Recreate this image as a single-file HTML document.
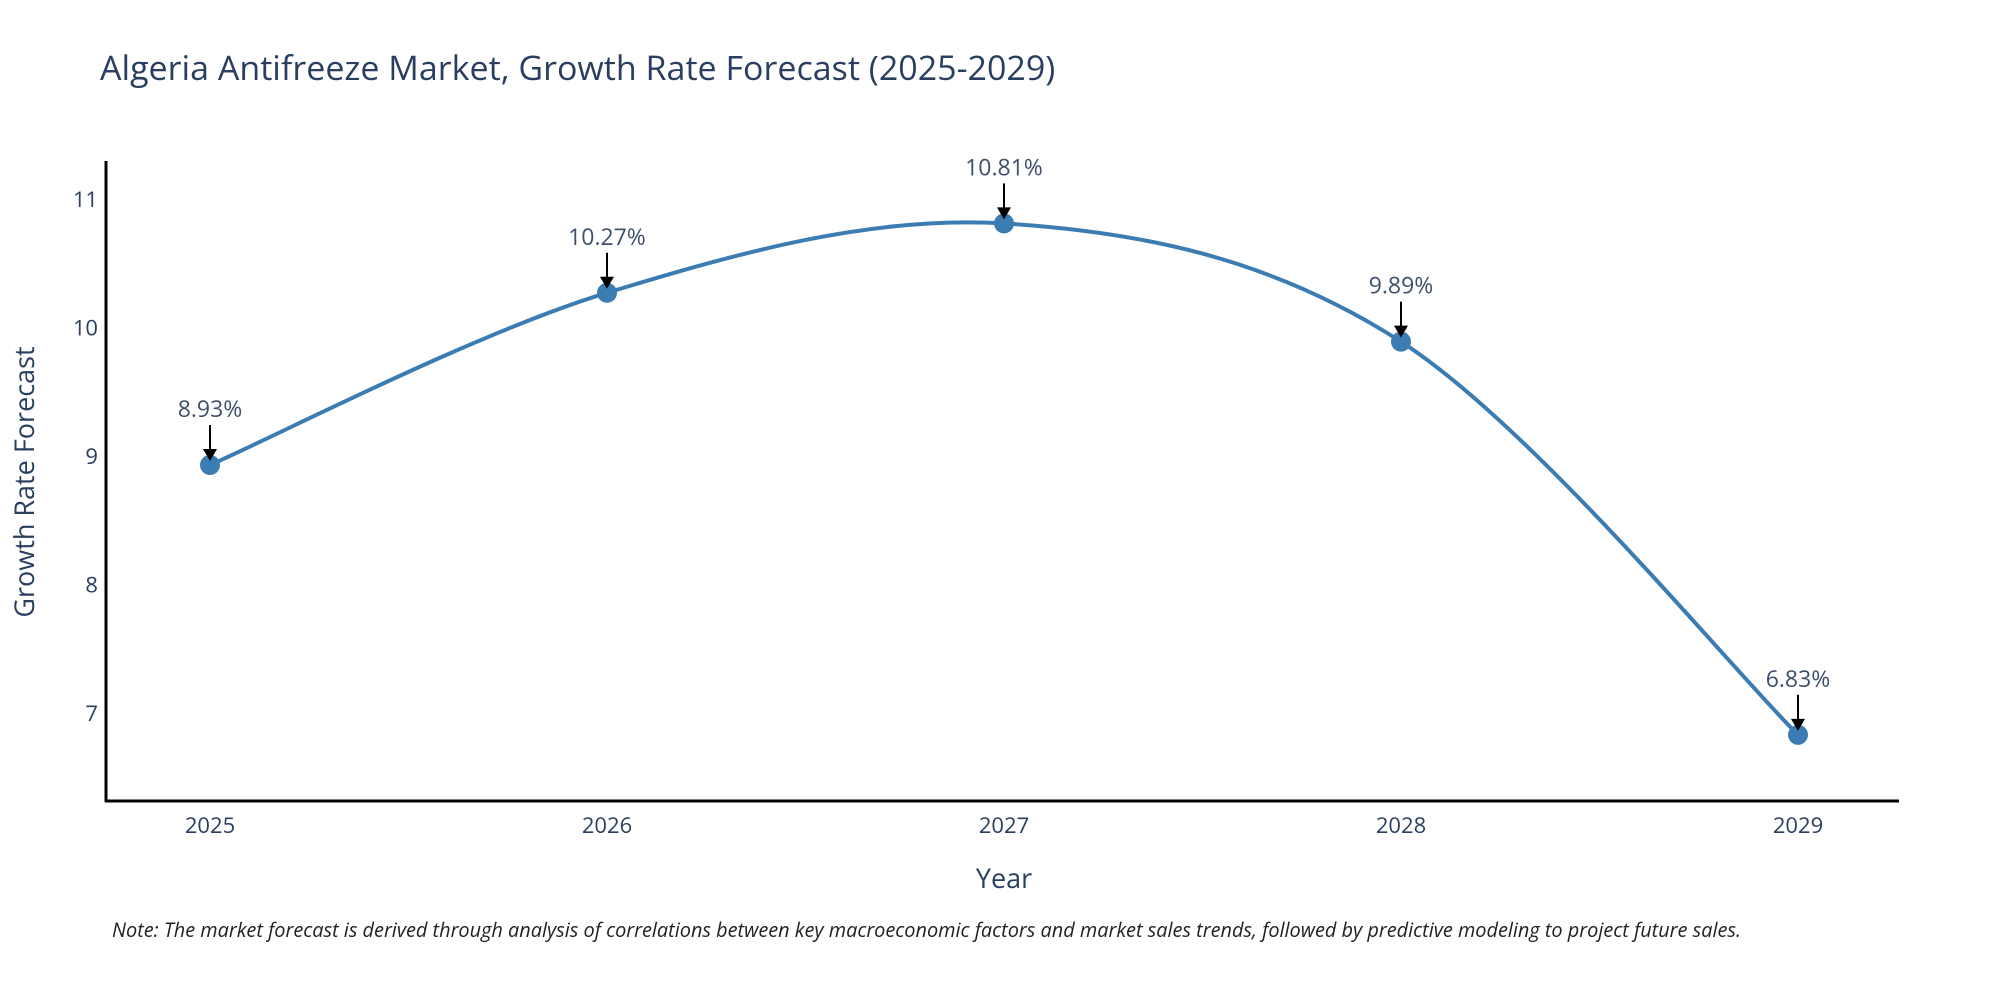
<!DOCTYPE html>
<html><head><meta charset="utf-8"><style>
body{margin:0;background:#fff;}
svg{display:block;font-family:"Open Sans","Liberation Sans",sans-serif;}
</style></head><body>
<svg id="chart" width="2000" height="1000">
<text x="100" y="80" font-size="34" fill="#2a3f5f">Algeria Antifreeze Market, Growth Rate Forecast (2025-2029)</text>
<g id="yticks"></g>
<g id="xticks"></g>
<path id="line" fill="none" stroke="#3b7db3" stroke-width="4"></path>
<g id="marks"></g>
<line x1="106" y1="161" x2="106" y2="802" stroke="#000" stroke-width="3"/>
<line x1="105" y1="801" x2="1899" y2="801" stroke="#000" stroke-width="3"/>
<text x="1004" y="888" font-size="27" fill="#2a3f5f" text-anchor="middle">Year</text>
<text transform="translate(34,482) rotate(-90)" font-size="27" fill="#2a3f5f" text-anchor="middle">Growth Rate Forecast</text>
<text x="112" y="937" font-size="19.9" font-style="italic" fill="#222">Note: The market forecast is derived through analysis of correlations between key macroeconomic factors and market sales trends, followed by predictive modeling to project future sales.</text>
</svg>
<script>
const years=["2025","2026","2027","2028","2029"];
const values=[8.93,10.27,10.81,9.89,6.83];
const labels=["8.93%","10.27%","10.81%","9.89%","6.83%"];
const yTicks=[7,8,9,10,11];
const NS="http://www.w3.org/2000/svg";
const xs=i=>210+i*(1798-210)/(years.length-1);
const ys=v=>713-(v-7)*128.5;
function mk(t,a,p){const e=document.createElementNS(NS,t);for(const k in a)e.setAttribute(k,a[k]);p.appendChild(e);return e;}
const yt=document.getElementById('yticks');
yTicks.forEach(v=>{const t=mk('text',{x:98,y:ys(v)+8,'font-size':22,fill:'#2a3f5f','text-anchor':'end'},yt);


t.textContent=v;});
const xt=document.getElementById('xticks');
years.forEach((y,i)=>{const t=mk('text',{x:xs(i),y:833,'font-size':22,fill:'#2a3f5f','text-anchor':'middle'},xt);


t.textContent=y;});
const pts=values.map((v,i)=>[xs(i),ys(v)]);
let d=`M${pts[0][0]},${pts[0][1]}`;
for(let i=0;i<pts.length-1;i++){const p0=pts[Math.max(0,i-1)],p1=pts[i],p2=pts[i+1],p3=pts[Math.min(pts.length-1,i+2)];const s=1/6;
d+=` C${p1[0]+(p2[0]-p0[0])*s},${p1[1]+(p2[1]-p0[1])*s} ${p2[0]-(p3[0]-p1[0])*s},${p2[1]-(p3[1]-p1[1])*s} ${p2[0]},${p2[1]}`;}
document.getElementById('line').setAttribute('d',d);
const mg=document.getElementById('marks');
pts.forEach((p,i)=>{
const c=mk('circle',{cx:p[0],cy:p[1],r:10,fill:'#3b7db3'},mg);


const l=mk('line',{x1:p[0],y1:p[1]-40,x2:p[0],y2:p[1]-14,stroke:'#000','stroke-width':2},mg);


const h=mk('polygon',{points:`${p[0]-7},${p[1]-16} ${p[0]+7},${p[1]-16} ${p[0]},${p[1]-4}`,fill:'#000'},mg);


const t=mk('text',{x:p[0],y:p[1]-48,'font-size':23,fill:'#3d4f6a','text-anchor':'middle'},mg);


t.textContent=labels[i];});
</script>
</body></html>
